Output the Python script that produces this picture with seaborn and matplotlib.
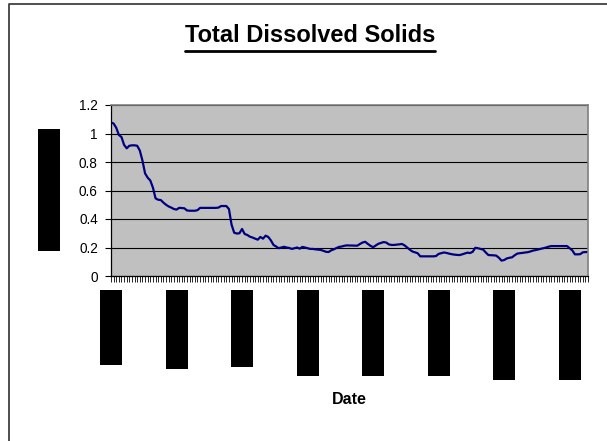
import numpy as np
import pandas as pd
import matplotlib
matplotlib.use("Agg")
import matplotlib.pyplot as plt
import matplotlib.transforms as mtransforms
from matplotlib.patches import Rectangle
from matplotlib.lines import Line2D
import seaborn as sns


# =========================================
# DATA
# =========================================

tds = [
    1.077, 1.07, 1.04, 0.99, 0.975, 0.92, 0.896, 0.914, 0.917, 0.917,
    0.914, 0.88, 0.81, 0.72, 0.69, 0.67, 0.62, 0.545, 0.535, 0.533,
    0.515, 0.5, 0.488, 0.48, 0.47, 0.466, 0.478, 0.477, 0.475, 0.46,
    0.458, 0.458, 0.458, 0.462, 0.478, 0.478, 0.478, 0.478, 0.478, 0.478,
    0.478, 0.48, 0.491, 0.491, 0.491, 0.47, 0.36, 0.304, 0.298, 0.3,
    0.33, 0.295, 0.288, 0.276, 0.27, 0.262, 0.255, 0.274, 0.262, 0.283,
    0.274, 0.25, 0.218, 0.207, 0.195, 0.2, 0.205, 0.2, 0.197, 0.19,
    0.195, 0.2, 0.192, 0.204, 0.2, 0.195, 0.19, 0.19, 0.187, 0.185,
    0.183, 0.177, 0.17, 0.168, 0.18, 0.187, 0.196, 0.204, 0.207, 0.212,
    0.215, 0.214, 0.214, 0.213, 0.213, 0.225, 0.235, 0.24, 0.225, 0.212,
    0.202, 0.214, 0.226, 0.232, 0.238, 0.235, 0.222, 0.218, 0.218, 0.22,
    0.222, 0.225, 0.215, 0.2, 0.185, 0.172, 0.166, 0.16, 0.138, 0.138,
    0.138, 0.138, 0.138, 0.138, 0.14, 0.155, 0.16, 0.165, 0.162, 0.157,
    0.153, 0.15, 0.148, 0.147, 0.152, 0.158, 0.164, 0.161, 0.17, 0.198,
    0.195, 0.19, 0.185, 0.165, 0.147, 0.146, 0.145, 0.143, 0.128, 0.108,
    0.112, 0.123, 0.128, 0.131, 0.145, 0.157, 0.16, 0.162, 0.165, 0.167,
    0.172, 0.178, 0.182, 0.186, 0.191, 0.195, 0.2, 0.206, 0.21, 0.21,
    0.21, 0.21, 0.21, 0.21, 0.21, 0.195, 0.18, 0.152, 0.152, 0.153,
    0.166, 0.168, 0.168,
]

y_ticks = [0, 0.2, 0.4, 0.6, 0.8, 1.0, 1.2]
y_tick_labels = ["0", "0.2", "0.4", "0.6", "0.8", "1", "1.2"]

# date labels (blacked out in the reference) sit on every 25th point
label_every = 25
label_box_bottoms = [365, 369, 367, 376, 376, 376, 380, 380]

df = pd.DataFrame({"Sample": np.arange(len(tds)), "TDS": tds})


# =========================================
# STYLE
# =========================================

sns.set_style("white")
plt.rcParams["font.family"] = ["Liberation Sans", "DejaVu Sans"]
plt.rcParams["text.color"] = "black"
plt.rcParams["xtick.color"] = "black"
plt.rcParams["ytick.color"] = "black"
plt.rcParams["axes.labelcolor"] = "black"

W, H = 607, 441

fig = plt.figure(figsize=(W / 100, H / 100), dpi=100)
ax = fig.add_axes([111 / W, 1 - 276 / H, 477 / W, 171 / H])
ax.set_facecolor("#C0C0C0")


# =========================================
# LINE
# =========================================

sns.lineplot(
    data=df,
    x="Sample",
    y="TDS",
    ax=ax,
    color="#000080",
    linewidth=1.6
)

ax.set_xlim(0, len(tds) - 1)
ax.set_ylim(0, 1.2)

ax.set_yticks(y_ticks)
ax.set_yticklabels(y_tick_labels)
ax.set_xticks(df["Sample"])
ax.set_xticklabels([])

ax.tick_params(axis="x", bottom=True, length=4, width=0.6,
               direction="out", color="black")
ax.tick_params(axis="y", left=True, length=4.5, width=0.8,
               direction="out", color="black", labelcolor="black",
               labelsize=9.8, pad=5)

ax.yaxis.grid(True, color="black", linewidth=0.8)
ax.set_axisbelow(True)

ax.set_xlabel("")
ax.set_ylabel("")

for side in ["left", "bottom"]:
    ax.spines[side].set_color("black")
    ax.spines[side].set_linewidth(0.9)
for side in ["top", "right"]:
    ax.spines[side].set_color("#808080")
    ax.spines[side].set_linewidth(1.2)


# =========================================
# REDACTED LABELS
# =========================================

blend = mtransforms.blended_transform_factory(ax.transData, fig.transFigure)
box_w = 22 / (477 / (len(tds) - 1))

for k, bottom in enumerate(label_box_bottoms):
    xc = k * label_every
    ax.add_patch(Rectangle(
        (xc - box_w / 2, 1 - bottom / H),
        box_w,
        (bottom - 290) / H,
        transform=blend,
        clip_on=False,
        facecolor="black",
        edgecolor="none"
    ))

fig.patches.append(Rectangle(
    (38 / W, 1 - 251 / H), 22 / W, 122 / H,
    transform=fig.transFigure, facecolor="black", edgecolor="none"
))


# =========================================
# TITLES
# =========================================

title = fig.text(310 / W, 1 - 36 / H, "Total Dissolved Solids",
                 ha="center", va="center", fontsize=17, fontweight="bold",
                 color="black")

fig.text(349 / W, 1 - 400 / H, "Date",
         ha="center", va="center", fontsize=11.5, fontweight="bold",
         color="black")

fig.canvas.draw()
bb = title.get_window_extent()
fig.lines.append(Line2D(
    [bb.x0 / W, bb.x1 / W], [1 - 51 / H, 1 - 51 / H],
    transform=fig.transFigure, color="black", linewidth=2
))


# =========================================
# CHART BORDER
# =========================================

fig.lines.append(Line2D(
    [9 / W, 9 / W, 1], [0, 1 - 4 / H, 1 - 4 / H],
    transform=fig.transFigure, color="#404040", linewidth=1.3
))

fig.savefig("out.png", dpi=100)
